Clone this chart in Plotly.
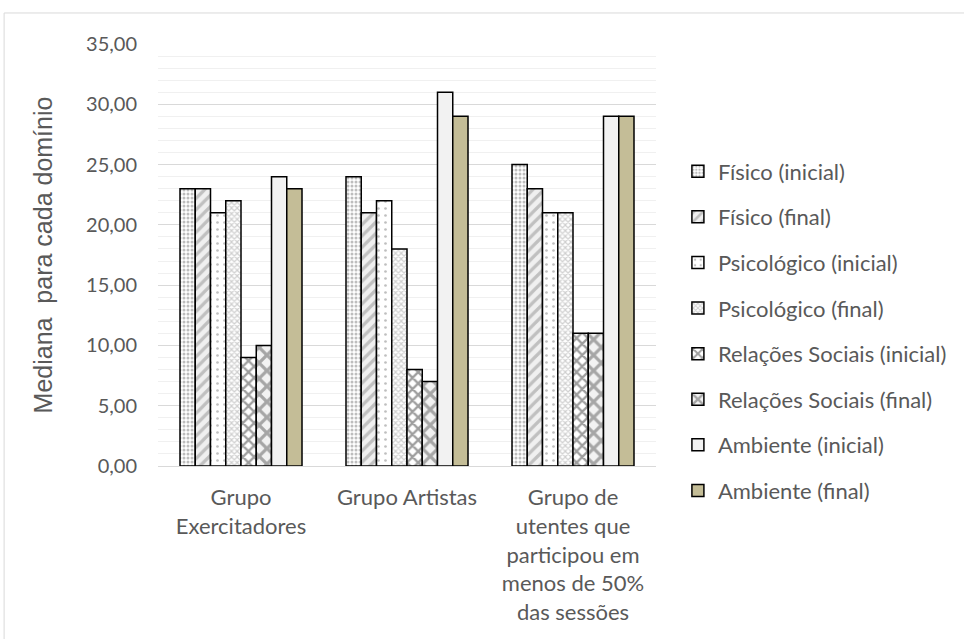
import plotly.graph_objects as go

categories = [
    "Grupo<br>Exercitadores",
    "Grupo Artistas",
    "Grupo de<br>utentes que<br>participou em<br>menos de 50%<br>das sessões",
]
series_names = [
    "Físico (inicial)", "Físico (final)",
    "Psicológico (inicial)", "Psicológico (final)",
    "Relações Sociais (inicial)", "Relações Sociais (final)",
    "Ambiente (inicial)", "Ambiente (final)",
]
fisico_inicial = [23, 24, 25]
fisico_final = [23, 21, 23]
psico_inicial = [21, 22, 21]
psico_final = [22, 18, 21]
social_inicial = [9, 8, 11]
social_final = [10, 7, 11]
ambiente_inicial = [24, 31, 29]
ambiente_final = [23, 29, 29]
series_values = [fisico_inicial, fisico_final, psico_inicial, psico_final,
                 social_inicial, social_final, ambiente_inicial, ambiente_final]

tick_vals = [0, 5, 10, 15, 20, 25, 30, 35]
tick_text = ["0,00", "5,00", "10,00", "15,00", "20,00", "25,00", "30,00", "35,00"]

# fill style per series: pattern shape, pattern colour, background, solidity, size
styles = [
    dict(shape=".", fgcolor="#bdbdbd", bgcolor="#ffffff", solidity=0.45, size=4),
    dict(shape="/", fgcolor="#c0c0c0", bgcolor="#f0f0f0", solidity=0.4, size=8),
    dict(shape=".", fgcolor="#bfbfbf", bgcolor="#ffffff", solidity=0.12, size=7),
    dict(shape="x", fgcolor="#cfcfcf", bgcolor="#ffffff", solidity=0.5, size=4),
    dict(shape="x", fgcolor="#9e9e9e", bgcolor="#ffffff", solidity=0.5, size=8),
    dict(shape="x", fgcolor="#a6a6a6", bgcolor="#f2f2f2", solidity=0.5, size=11),
    None,
    None,
]
solid_colors = [None] * 6 + ["#f2f2f2", "#c4bd97"]

fig = go.Figure()
for i, (name, vals) in enumerate(zip(series_names, series_values)):
    marker = dict(line=dict(color="#000000", width=1.5))
    if styles[i] is not None:
        marker["color"] = styles[i]["bgcolor"]
        marker["pattern"] = dict(shape=styles[i]["shape"], fgcolor=styles[i]["fgcolor"],
                                 bgcolor=styles[i]["bgcolor"], solidity=styles[i]["solidity"],
                                 size=styles[i]["size"], fillmode="replace")
    else:
        marker["color"] = solid_colors[i]
    fig.add_trace(go.Bar(x=categories, y=vals, name=name, marker=marker,
                         legendgroup=f"g{i}"))

font = "Lato"
text_color = "#595959"
fig.update_layout(
    width=964, height=639,
    margin=dict(l=158, r=308, t=44, b=173, autoexpand=False),
    paper_bgcolor="white", plot_bgcolor="white",
    barmode="group", bargap=0.265, bargroupgap=0,
    font=dict(family=font, size=20, color=text_color),
    showlegend=True,
    legend=dict(x=1.044, y=0.32, xanchor="left", yanchor="middle",
                font=dict(size=22, color=text_color),
                tracegroupgap=14, itemwidth=30, bgcolor="rgba(0,0,0,0)"),
    yaxis=dict(range=[0, 35], tickvals=tick_vals, ticktext=tick_text,
               showgrid=True, gridcolor="#d9d9d9", gridwidth=1,
               minor=dict(dtick=1, showgrid=True, gridcolor="#f0f0f0", gridwidth=1),
               zeroline=False, showline=False, ticks="", ticklabelstandoff=20,
               title=dict(text="Mediana  para cada domínio",
                          font=dict(family="Liberation Sans", size=25, color=text_color),
                          standoff=26),
               tickfont=dict(size=20, color=text_color)),
    xaxis=dict(showline=True, linecolor="#d9d9d9", linewidth=1, ticks="",
               ticklabelstandoff=12,
               tickfont=dict(size=22, color=text_color)),
)

# outer chart frame
fig.add_shape(type="rect", xref="paper", yref="paper",
              x0=-0.309, x1=1.8, y0=-0.6, y1=1.0735,
              line=dict(color="#d9d9d9", width=1), fillcolor="rgba(0,0,0,0)", layer="below")

fig.write_html("out.html")
